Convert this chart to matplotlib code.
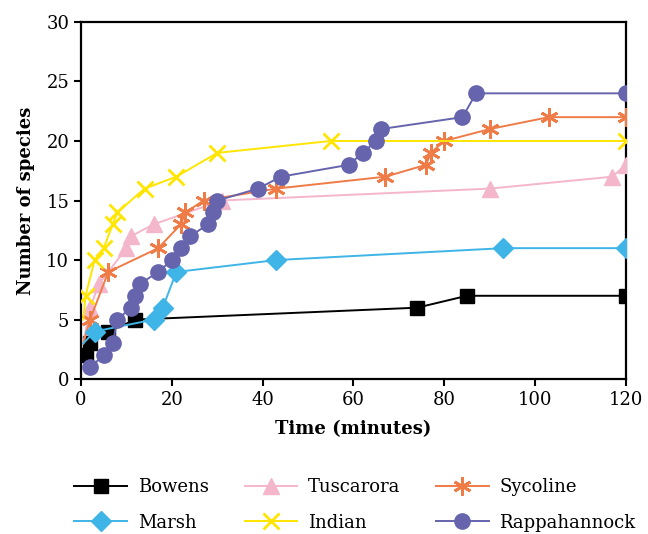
import matplotlib
matplotlib.use("Agg")
import matplotlib.pyplot as plt

plt.rcParams['font.family'] = ['DejaVu Serif']

bowens_x = [1, 2, 6, 12, 74, 85, 120]
bowens_y = [2, 3, 4, 5, 6, 7, 7]

marsh_x = [0.5, 3, 16, 18, 21, 43, 93, 120]
marsh_y = [3, 4, 5, 6, 9, 10, 11, 11]

tusc_x = [0.5, 2, 4, 10, 11, 16, 31, 90, 117, 120]
tusc_y = [3, 6, 8, 11, 12, 13, 15, 16, 17, 18]

indian_x = [0.5, 1, 3, 5, 7, 8, 14, 21, 30, 55, 120]
indian_y = [5, 7, 10, 11, 13, 14, 16, 17, 19, 20, 20]

syc_x = [0.5, 2, 6, 17, 22, 23, 27, 43, 67, 76, 77, 80, 90, 103, 120]
syc_y = [3, 5, 9, 11, 13, 14, 15, 16, 17, 18, 19, 20, 21, 22, 22]

rap_x = [2, 5, 7, 8, 11, 12, 13, 17, 20, 22, 24, 28, 29, 30, 39, 44, 59, 62, 65, 66, 84, 87, 120]
rap_y = [1, 2, 3, 5, 6, 7, 8, 9, 10, 11, 12, 13, 14, 15, 16, 17, 18, 19, 20, 21, 22, 24, 24]

x_ticks = [0, 20, 40, 60, 80, 100, 120]
y_ticks = [0, 5, 10, 15, 20, 25, 30]

fig = plt.figure(figsize=(6.48, 5.34), dpi=100)
ax = fig.add_axes([0.125, 0.290, 0.841, 0.669])

c_black = '#000000'
c_marsh = '#3FB4E6'
c_tusc = '#F4B6CB'
c_ind = '#FFE500'
c_syc = '#EF7B47'
c_rap = '#6564AC'

lw = 1.4
ax.plot(bowens_x, bowens_y, color=c_black, lw=lw, marker='s', ms=10.5, label='Bowens', zorder=3)
ax.plot(tusc_x, tusc_y, color=c_tusc, lw=lw, marker='^', ms=11, label='Tuscarora', zorder=3, markevery=list(range(1, len(tusc_x))))
ax.plot(syc_x, syc_y, color=c_syc, lw=lw, marker=(6, 2, 0), ms=13, mew=2.0, label='Sycoline', zorder=3, markevery=list(range(1, len(syc_x))))
ax.plot(marsh_x, marsh_y, color=c_marsh, lw=lw, marker='D', ms=10, label='Marsh', zorder=3, markevery=list(range(1, len(marsh_x))))
ax.plot(indian_x, indian_y, color=c_ind, lw=lw, marker='x', ms=11, mew=2.0, label='Indian', zorder=3, markevery=list(range(1, len(indian_x))))
ax.plot(rap_x, rap_y, color=c_rap, lw=lw, marker='o', ms=11, label='Rappahannock', zorder=3)

ax.set_xlim(0, 120)
ax.set_ylim(0, 30)
ax.set_xticks(x_ticks)
ax.set_yticks(y_ticks)
ax.tick_params(direction='out', length=5, width=1.5, labelsize=13)
for s in ax.spines.values():
    s.set_linewidth(1.6)

ax.set_xlabel('Time (minutes)', fontsize=13, fontweight='bold', labelpad=8)
ax.set_ylabel('Number of species', fontsize=13, fontweight='bold', labelpad=8)

handles, labels = ax.get_legend_handles_labels()
order = ['Bowens', 'Marsh', 'Tuscarora', 'Indian', 'Sycoline', 'Rappahannock']
hmap = dict(zip(labels, handles))
leg = fig.legend([hmap[k] for k in order], order, loc='upper center', ncol=3,
                 bbox_to_anchor=(0.548, 0.104), frameon=False, fontsize=13,
                 handlelength=2.9, columnspacing=2.0, labelspacing=0.95, handletextpad=0.6,
                 borderaxespad=0, borderpad=0)

fig.savefig('out.png', dpi=100)
